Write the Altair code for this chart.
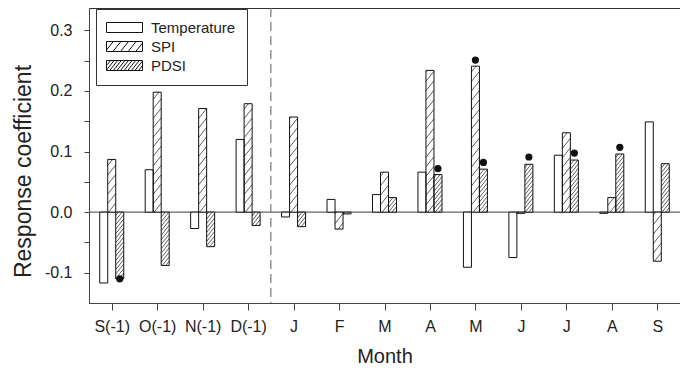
import json
import math
import pandas as pd
import altair as alt

# ---------------- data ----------------
months = ["S(-1)", "O(-1)", "N(-1)", "D(-1)", "J", "F", "M", "A", "M", "J", "J", "A", "S"]
series = ["Temperature", "SPI", "PDSI"]
temperature = [-0.117, 0.070, -0.027, 0.120, -0.008, 0.021, 0.029, 0.066, -0.091, -0.075, 0.094, -0.002, 0.149]
spi = [0.087, 0.198, 0.171, 0.179, 0.157, -0.028, 0.066, 0.234, 0.241, -0.002, 0.131, 0.024, -0.081]
pdsi = [-0.110, -0.088, -0.057, -0.022, -0.024, -0.003, 0.024, 0.062, 0.071, 0.079, 0.086, 0.096, 0.080]
sig_series = ["PDSI", "PDSI", "SPI", "PDSI", "PDSI", "PDSI", "PDSI"]
sig_month = [0, 7, 8, 8, 9, 10, 11]
sig_value = [-0.110, 0.072, 0.251, 0.082, 0.091, 0.0975, 0.107]
y_ticks = [-0.1, -0.05, 0.0, 0.05, 0.1, 0.15, 0.2, 0.25, 0.3]
divider_after = 3

# ---------------- layout ----------------
W, H = 591, 295
Y_MIN, Y_MAX = -0.15, 0.337
X_MIN, X_MAX = -0.5, len(months) - 0.5
BAR_PX = 8
ux = (X_MAX - X_MIN) / W
uy = (Y_MAX - Y_MIN) / H
bar_w = BAR_PX * ux
offsets = {"Temperature": -1, "SPI": 0, "PDSI": 1}
hatch_spec = {"SPI": (9.5, 1.25), "PDSI": (4.5, 1.25)}  # vertical spacing px, slope
FONT = "Liberation Sans"

rows = []
for s, vals in zip(series, [temperature, spi, pdsi]):
    for i, v in enumerate(vals):
        c = i + offsets[s] * bar_w
        rows.append(dict(series=s, idx=i, x0=c - bar_w / 2, x1=c + bar_w / 2, y0=0.0, y1=v))
bars = pd.DataFrame(rows)


def clip_lines(X0, X1, Ylo, Yhi, spacing, slope):
    out = []
    kmin = math.ceil((Ylo - slope * X1) / spacing)
    kmax = math.floor((Yhi - slope * X0) / spacing)
    for k in range(kmin, kmax + 1):
        c = k * spacing
        xa = max(X0, (Ylo - c) / slope)
        xb = min(X1, (Yhi - c) / slope)
        if xb - xa > 0.15:
            out.append((xa, slope * xa + c, xb, slope * xb + c))
    return out


hrows = []
for r in bars.itertuples():
    if r.series not in hatch_spec:
        continue
    sp, sl = hatch_spec[r.series]
    X0 = (r.x0 - X_MIN) / ux
    X1 = (r.x1 - X_MIN) / ux
    Ya = (r.y0 - Y_MIN) / uy
    Yb = (r.y1 - Y_MIN) / uy
    for xa, ya, xb, yb in clip_lines(X0, X1, min(Ya, Yb), max(Ya, Yb), sp, sl):
        hrows.append(dict(hx=X_MIN + xa * ux, hy=Y_MIN + ya * uy,
                          hx2=X_MIN + xb * ux, hy2=Y_MIN + yb * uy))
hatch = pd.DataFrame(hrows)

sig = pd.DataFrame({
    "series": sig_series,
    "idx": sig_month,
    "value": sig_value,
})
sig["x"] = [m + offsets[s] * bar_w for m, s in zip(sig_month, sig_series)]


# legend symbol paths (unit scale 5 px with symbolSize 100)
def legend_path(name):
    hw, hh = 3.6, 1.0
    p = f"M{-hw},{-hh}H{hw}V{hh}H{-hw}Z"
    if name in hatch_spec:
        sp, sl = hatch_spec[name]
        for xa, ya, xb, yb in clip_lines(-hw, hw, -hh, hh, sp / 5.0, sl):
            p += f"M{xa:.3f},{-ya:.3f}L{xb:.3f},{-yb:.3f}"
    return p


legend_paths = [legend_path(s) for s in series]

xs = alt.Scale(domain=[X_MIN, X_MAX], nice=False, zero=False)
ys = alt.Scale(domain=[Y_MIN, Y_MAX], nice=False, zero=False)

label_expr_x = json.dumps(months) + "[datum.value]"
label_expr_y = ("abs(datum.value*10 - round(datum.value*10)) < 0.001 ? "
                "(datum.value < -0.001 ? '-' + format(-datum.value, '.1f') : format(abs(datum.value), '.1f')) : ''")

x_axis = alt.Axis(values=list(range(len(months))), labelExpr=label_expr_x, grid=False,
                  tickSize=7, labelPadding=8, labelFontSize=16, title="Month",
                  titleFontSize=20, titleFontWeight="normal", titleBaseline="alphabetic",
                  titleY=59, labelFont=FONT, titleFont=FONT)
y_axis = alt.Axis(values=y_ticks, labelExpr=label_expr_y, grid=False, tickSize=5,
                  labelPadding=12, labelFontSize=16, title="Response coefficient",
                  titleFontSize=23, titleFontWeight="normal", titleX=-54, titleY=163,
                  labelFont=FONT, titleFont=FONT)

zero = alt.Chart(pd.DataFrame({"z": [0.0]})).mark_rule(color="#666", strokeWidth=1.2).encode(
    y=alt.Y("z:Q", scale=ys, axis=y_axis, title="Response coefficient")
)
divider = alt.Chart(pd.DataFrame({"d": [divider_after + 0.5]})).mark_rule(
    color="#777", strokeDash=[9, 5], strokeWidth=1.2
).encode(x=alt.X("d:Q", scale=xs, axis=x_axis, title="Month"))

bar_fill = alt.Chart(bars).mark_rect(fill="white").encode(
    x=alt.X("x0:Q", scale=xs, axis=x_axis, title="Month"), x2="x1:Q",
    y=alt.Y("y0:Q", scale=ys, axis=y_axis, title="Response coefficient"), y2="y1:Q",
)
hatch_layer = alt.Chart(hatch).mark_rule(color="#333", strokeWidth=0.8).encode(
    x=alt.X("hx:Q", scale=xs, axis=x_axis, title="Month"), x2="hx2:Q",
    y=alt.Y("hy:Q", scale=ys, axis=y_axis, title="Response coefficient"), y2="hy2:Q",
)
bar_line = alt.Chart(bars).mark_rect(fillOpacity=0, stroke="#111", strokeWidth=1).encode(
    x=alt.X("x0:Q", scale=xs, axis=x_axis, title="Month"), x2="x1:Q",
    y=alt.Y("y0:Q", scale=ys, axis=y_axis, title="Response coefficient"), y2="y1:Q",
)
dots = alt.Chart(sig).mark_circle(size=52, color="#111", opacity=1).encode(
    x=alt.X("x:Q", scale=xs, axis=x_axis, title="Month"),
    y=alt.Y("value:Q", scale=ys, axis=y_axis, title="Response coefficient"),
)
legend_layer = alt.Chart(pd.DataFrame({"series": series})).mark_point(
    filled=False, color="#111", strokeWidth=1
).encode(
    x=alt.value(-1000), y=alt.value(-1000),
    shape=alt.Shape("series:N", scale=alt.Scale(domain=series, range=legend_paths),
                    legend=alt.Legend(title=None, orient="none", legendX=7, legendY=1,
                                      padding=11, strokeColor="#333", fillColor="white",
                                      labelFontSize=15, labelFont=FONT, labelColor="#222",
                                      symbolSize=100, symbolStrokeWidth=1,
                                      symbolStrokeColor="#111", symbolFillColor="white",
                                      symbolOpacity=1, symbolOffset=10, labelOffset=19,
                                      rowPadding=3)),
)

chart = alt.layer(zero, divider, bar_fill, hatch_layer, bar_line, dots, legend_layer).properties(
    width=W, height=H,
    padding={"left": 81, "top": 0, "right": 0, "bottom": 64},
    autosize="none",
).configure_view(stroke="#333", strokeWidth=1).configure_axis(
    domainColor="#444", tickColor="#444", labelColor="#222", titleColor="#222"
)

chart.save("out.html", embed_options={"renderer": "svg", "actions": False})
